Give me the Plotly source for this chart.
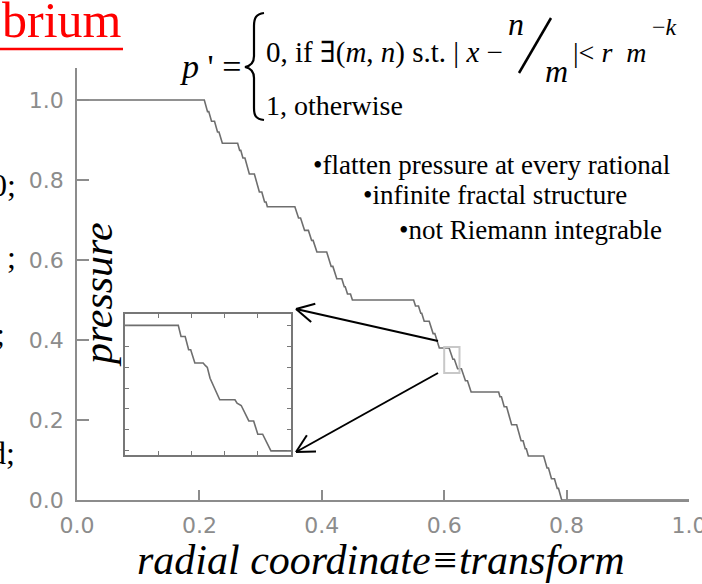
import math
import plotly.graph_objects as go

# ---------------- data ----------------
radial_x = [0.0, 0.208,
            0.2133, 0.2153, 0.2198, 0.2247, 0.2296, 0.2320, 0.2375,
            0.2625, 0.2658, 0.2676, 0.2711, 0.2744, 0.2816, 0.2898, 0.2980, 0.3020, 0.3065, 0.3089, 0.3110,
            0.3560, 0.3620, 0.3653, 0.3719, 0.3781, 0.3834, 0.3858, 0.3920,
            0.4080, 0.4153, 0.4181, 0.4245, 0.4327, 0.4367, 0.4383, 0.4420, 0.4469, 0.4500,
            0.5500, 0.5531, 0.5580, 0.5617, 0.5633, 0.5673, 0.5755, 0.5819, 0.5847, 0.5920,
            0.6080, 0.6142, 0.6166, 0.6219, 0.6281, 0.6347, 0.6380, 0.6440,
            0.6890, 0.6911, 0.6935, 0.6980, 0.7020, 0.7102, 0.7184, 0.7256, 0.7289, 0.7324, 0.7342, 0.7375,
            0.7625, 0.7680, 0.7704, 0.7753, 0.7802, 0.7847, 0.7867, 0.7920,
            1.0]
pressure_y = [1.0, 1.0,
              0.971, 0.971, 0.947, 0.947, 0.920, 0.920, 0.892,
              0.892, 0.874, 0.874, 0.855, 0.855, 0.815, 0.815, 0.770, 0.770, 0.745, 0.745, 0.733,
              0.733, 0.705, 0.705, 0.674, 0.674, 0.649, 0.649, 0.620,
              0.620, 0.584, 0.584, 0.553, 0.553, 0.533, 0.533, 0.515, 0.515, 0.500,
              0.500, 0.485, 0.485, 0.467, 0.467, 0.447, 0.447, 0.416, 0.416, 0.380,
              0.380, 0.352, 0.352, 0.328, 0.328, 0.298, 0.298, 0.270,
              0.270, 0.258, 0.258, 0.233, 0.233, 0.188, 0.188, 0.148, 0.148, 0.128, 0.128, 0.110,
              0.110, 0.080, 0.080, 0.053, 0.053, 0.029, 0.029, 0.0,
              0.0]

# zoomed-in detail shown in the inset
inset_x = [0.6000, 0.6077, 0.6081, 0.6087, 0.6092, 0.6095, 0.6101, 0.6113, 0.6116, 0.6119,
           0.6123, 0.6137, 0.6159, 0.6162, 0.6168, 0.6174, 0.6179, 0.6186, 0.6192, 0.6199,
           0.6211, 0.6240]
inset_y = [0.3800, 0.3800, 0.3754, 0.3754, 0.3699, 0.3699, 0.3644, 0.3644, 0.3634, 0.3626,
           0.3581, 0.3492, 0.3492, 0.3478, 0.3468, 0.3429, 0.3404, 0.3404, 0.3349, 0.3349,
           0.3280, 0.3280]

x_ticks = [0.0, 0.2, 0.4, 0.6, 0.8, 1.0]
x_tick_labels = ["0.0", "0.2", "0.4", "0.6", "0.8", "1.0"]
y_ticks = [0.0, 0.2, 0.4, 0.6, 0.8, 1.0]
y_tick_labels = ["0.0", "0.2", "0.4", "0.6", "0.8", "1.0"]
inset_x_ticks = [0.6048, 0.6096, 0.6144, 0.6192]
inset_y_ticks = [0.3280, 0.3367, 0.3454, 0.3540, 0.3626, 0.3713, 0.3800]

# zoom window drawn on the main curve
zoom_box_x = [0.600, 0.625]
zoom_box_y = [0.3175, 0.3825]

# ---------------- layout helpers ----------------
W, H = 702, 584
L, R, T, B = 77, 13, 68, 84
PW, PH = W - L - R, H - T - B


def P(xp, yp):
    return (xp - L) / PW, (H - B - yp) / PH


SERIF = "Liberation Serif, Times New Roman, serif"
GRAY = "#8c8c8c"

fig = go.Figure()
fig.add_trace(go.Scatter(x=radial_x, y=pressure_y, mode="lines",
                         line=dict(color="#6e6e6e", width=1.6),
                         showlegend=False, hoverinfo="skip"))
fig.add_trace(go.Scatter(x=inset_x, y=inset_y, mode="lines", xaxis="x2", yaxis="y2",
                         line=dict(color="#6e6e6e", width=1.6),
                         showlegend=False, hoverinfo="skip"))

ix0, iy1 = P(125, 314)
ix1, iy0 = P(291, 455)

axis_common = dict(showgrid=False, zeroline=False, showline=True, linecolor=GRAY,
                   linewidth=1.6, ticks="inside", tickcolor=GRAY, tickwidth=1.5,
                   ticklabeloverflow="allow", automargin=False,
                   tickfont=dict(family="DejaVu Sans", size=22, color=GRAY))

fig.update_layout(
    width=W, height=H, autosize=False,
    margin=dict(l=L, r=R, t=T, b=B, pad=0, autoexpand=False),
    paper_bgcolor="white", plot_bgcolor="white",
    xaxis=dict(range=[0, 1], tickvals=x_ticks, ticktext=x_tick_labels, ticklen=10,
               ticklabelstandoff=5, **axis_common),
    yaxis=dict(range=[0, 1.08], tickvals=y_ticks, ticktext=y_tick_labels, ticklen=12,
               ticklabelstandoff=7, **axis_common),
    xaxis2=dict(domain=[ix0, ix1], anchor="y2", range=[0.600, 0.624],
                tickvals=inset_x_ticks, showticklabels=False, ticks="inside", ticklen=4,
                mirror="allticks", showline=True, linecolor="#777777", linewidth=1.8,
                tickcolor="#777777", showgrid=False, zeroline=False, automargin=False),
    yaxis2=dict(domain=[iy0, iy1], anchor="x2", range=[0.3263, 0.3847],
                tickvals=inset_y_ticks, showticklabels=False, ticks="inside", ticklen=4,
                mirror="allticks", showline=True, linecolor="#777777", linewidth=1.8,
                tickcolor="#777777", showgrid=False, zeroline=False, automargin=False),
    showlegend=False,
)

shapes = []
# zoom box on the curve
shapes.append(dict(type="rect", xref="x", yref="y", x0=zoom_box_x[0], x1=zoom_box_x[1],
                   y0=zoom_box_y[0], y1=zoom_box_y[1], line=dict(color="#c8c8c8", width=2)))
# red underline of title fragment
ux0, uy = P(0, 49)
ux1, _ = P(123, 49)
shapes.append(dict(type="line", xref="paper", yref="paper", x0=ux0, y0=uy, x1=ux1, y1=uy,
                   line=dict(color="#ff0000", width=2.5)))


def arrow(tail, tip, head_len=20, ang=28):
    out = []
    t0 = P(*tail)
    t1 = P(*tip)
    out.append(dict(type="line", xref="paper", yref="paper", x0=t0[0], y0=t0[1],
                    x1=t1[0], y1=t1[1], line=dict(color="black", width=2)))
    dx, dy = tail[0] - tip[0], tail[1] - tip[1]
    base = math.atan2(dy, dx)
    for s in (-1, 1):
        a = base + s * math.radians(ang)
        hx, hy = tip[0] + head_len * math.cos(a), tip[1] + head_len * math.sin(a)
        h = P(hx, hy)
        out.append(dict(type="line", xref="paper", yref="paper", x0=t1[0], y0=t1[1],
                        x1=h[0], y1=h[1], line=dict(color="black", width=2)))
    return out


shapes += arrow((438, 341), (296, 309))
shapes += arrow((438, 373), (296, 452))

# slash of the fraction n/m
s0 = P(519, 73)
s1 = P(551, 18)
shapes.append(dict(type="line", xref="paper", yref="paper", x0=s0[0], y0=s0[1],
                   x1=s1[0], y1=s1[1], line=dict(color="black", width=2.5)))

# curly brace
bp = [(264, 13), (256, 14), (254, 18), (254, 26), (254, 56), (254, 63), (250, 66), (245, 67),
      (250, 68), (254, 71), (254, 78), (254, 108), (254, 116), (256, 119), (264, 120)]
q = [P(*p) for p in bp]
path = (f"M {q[0][0]},{q[0][1]} C {q[1][0]},{q[1][1]} {q[2][0]},{q[2][1]} {q[3][0]},{q[3][1]} "
        f"L {q[4][0]},{q[4][1]} C {q[5][0]},{q[5][1]} {q[6][0]},{q[6][1]} {q[7][0]},{q[7][1]} "
        f"C {q[8][0]},{q[8][1]} {q[9][0]},{q[9][1]} {q[10][0]},{q[10][1]} "
        f"L {q[11][0]},{q[11][1]} C {q[12][0]},{q[12][1]} {q[13][0]},{q[13][1]} {q[14][0]},{q[14][1]}")
shapes.append(dict(type="path", xref="paper", yref="paper", path=path,
                   line=dict(color="black", width=2.2)))
fig.update_layout(shapes=shapes)


def txt(s, xp, yp, size, xanchor="left", color="black", family=SERIF, angle=0):
    x, y = P(xp, yp)
    fig.add_annotation(text=s, x=x, y=y, xref="paper", yref="paper", showarrow=False,
                       xanchor=xanchor, yanchor="middle", textangle=angle,
                       font=dict(family=family, size=size, color=color))


txt("brium", 0, 20, 50, color="#ff0000")
txt("<i>p</i> ' =", 243, 67, 34, xanchor="right")
txt("0, if <span style=\"font-family:'DejaVu Serif'\">∃</span>(<i>m</i>, <i>n</i>) s.t. | <i>x</i> −",
    264, 52, 29)
txt("<i>n</i>", 516, 24, 32, xanchor="center")
txt("<i>m</i>", 556, 71, 32, xanchor="center")
txt("|< <i>r</i>  <i>m</i>", 571, 52, 28)
txt("−<i>k</i>", 650, 27, 24)
txt("1, otherwise", 264, 106, 28)

txt("•flatten pressure at every rational", 311, 165, 27)
txt("•infinite fractal structure", 361, 195, 27)
txt("•not Riemann integrable", 397, 230, 27)

txt("<i>pressure</i>", 98, 295, 42, xanchor="center", angle=-90)
txt("<i>radial coordinate≡transform</i>", 381, 560, 42, xanchor="center")

# clipped fragments of slide text at the left edge
txt("0;", 18, 185, 32, xanchor="right")
txt("0 ;", 18, 257, 32, xanchor="right")
txt("d;", 7, 334, 32, xanchor="right")
txt("d;", 17, 453, 32, xanchor="right")

fig.write_html("out.html", config={"displayModeBar": False},
               post_script="document.body.style.margin='0px';")
